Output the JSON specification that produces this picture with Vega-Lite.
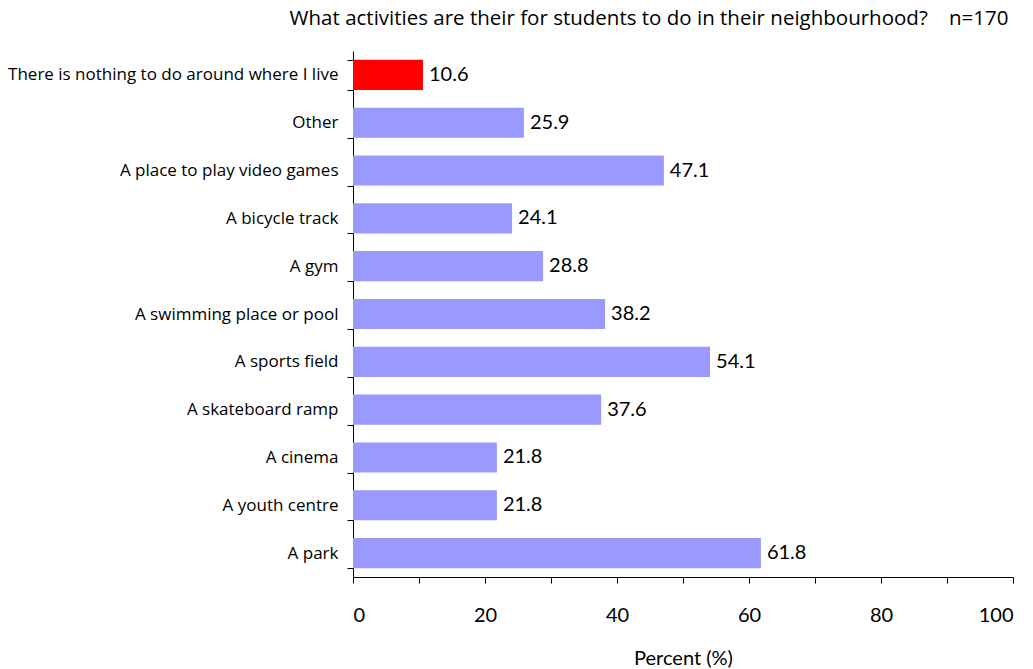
{
  "$schema": "https://vega.github.io/schema/vega-lite/v6.json",
  "width": 660,
  "height": 526,
  "autosize": {"type": "none"},
  "padding": {"left": 353, "top": 51, "right": 20, "bottom": 92},
  "background": "white",
  "title": {
    "text": "What activities are their for students to do in their neighbourhood?\u00a0\u00a0\u00a0 n=170",
    "anchor": "end",
    "font": "Open Sans",
    "fontSize": 20.5,
    "fontWeight": "normal",
    "color": "black",
    "offset": 13,
    "dx": -5
  },
  "data": {
    "values": [
      {"activity": "There is nothing to do around where I live", "pct": 10.6, "grp": "none"},
      {"activity": "Other", "pct": 25.9, "grp": "some"},
      {"activity": "A place to play video games", "pct": 47.1, "grp": "some"},
      {"activity": "A bicycle track", "pct": 24.1, "grp": "some"},
      {"activity": "A gym", "pct": 28.8, "grp": "some"},
      {"activity": "A swimming place or pool", "pct": 38.2, "grp": "some"},
      {"activity": "A sports field", "pct": 54.1, "grp": "some"},
      {"activity": "A skateboard ramp", "pct": 37.6, "grp": "some"},
      {"activity": "A cinema", "pct": 21.8, "grp": "some"},
      {"activity": "A youth centre", "pct": 21.8, "grp": "some"},
      {"activity": "A park", "pct": 61.8, "grp": "some"}
    ]
  },
  "encoding": {
    "y": {
      "field": "activity",
      "type": "nominal",
      "sort": null,
      "scale": {"paddingInner": 0.37, "paddingOuter": 0.185},
      "axis": {
        "title": null,
        "tickBand": "extent",
        "domainColor": "black",
        "tickColor": "black",
        "tickSize": 6,
        "labelFont": "Open Sans",
        "labelFontSize": 17,
        "labelColor": "black",
        "labelPadding": 9,
        "labelLimit": 400,
        "grid": false
      }
    },
    "x": {
      "field": "pct",
      "type": "quantitative",
      "scale": {"domain": [0, 100], "nice": false},
      "axis": {
        "title": "Percent (%)",
        "titleFont": "Lato",
        "titleFontSize": 20,
        "titleFontWeight": "normal",
        "titleColor": "black",
        "titlePadding": 23,
        "values": [0, 10, 20, 30, 40, 50, 60, 70, 80, 90, 100],
        "labelExpr": "datum.value % 20 == 0 ? datum.label : ''",
        "labelFont": "Lato",
        "labelFontSize": 20,
        "labelColor": "black",
        "labelPadding": 22,
        "tickSize": 6,
        "tickColor": "black",
        "domainColor": "black",
        "grid": false
      }
    }
  },
  "layer": [
    {
      "mark": {"type": "bar"},
      "encoding": {
        "color": {
          "field": "grp",
          "type": "nominal",
          "scale": {"domain": ["none", "some"], "range": ["#FF0000", "#9999FF"]},
          "legend": null
        }
      }
    },
    {
      "mark": {"type": "text", "align": "left", "baseline": "middle", "dx": 6, "font": "Lato", "fontSize": 20, "color": "black"},
      "encoding": {
        "text": {"field": "pct", "type": "quantitative", "format": ".1f"}
      }
    }
  ],
  "config": {
    "view": {"stroke": null}
  }
}
